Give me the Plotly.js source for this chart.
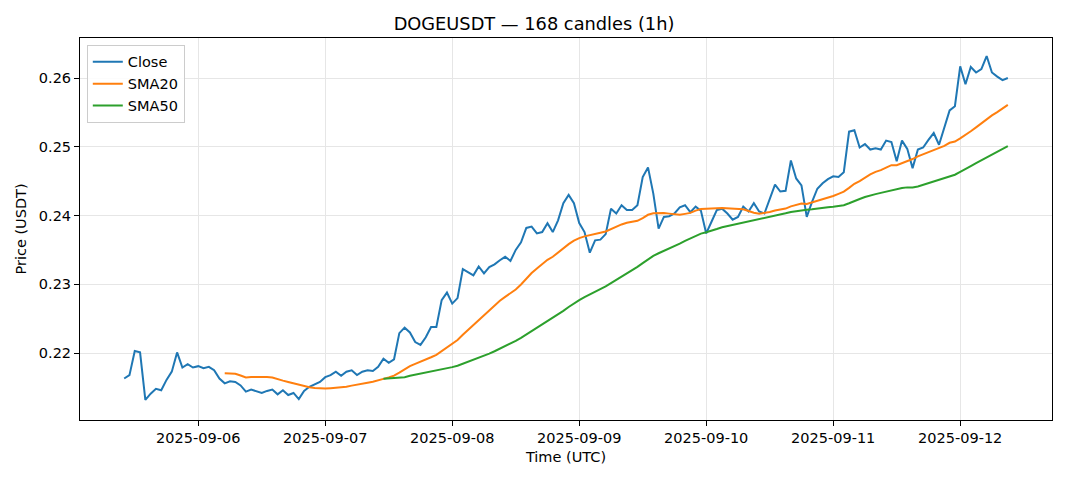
<!DOCTYPE html>
<html>
<head>
<meta charset="utf-8">
<script src="https://cdn.plot.ly/plotly-3.0.1.min.js"></script>
<style>html,body{margin:0;padding:0;background:#fff;}#chart{width:1068px;height:481px;}</style>
</head>
<body>
<div id="chart"></div>
<script>
// Hourly candles, first one at 2025-09-05 10:00 UTC
const startTime = "2025-09-05T10:00:00Z";
const closePrices = [
  0.2163,0.2168,0.2203,0.2201,0.2132,0.2141,0.2148,0.2146,0.2161,0.2173,
  0.2201,0.2179,0.2184,0.2179,0.2181,0.2178,0.2180,0.2175,0.2163,0.2156,
  0.2159,0.2158,0.2153,0.2144,0.2147,0.2144,0.2142,0.2145,0.2147,0.2140,
  0.2146,0.2139,0.2142,0.2133,0.2145,0.2151,0.2154,0.2158,0.2165,0.2168,
  0.2173,0.2167,0.2173,0.2175,0.2168,0.2173,0.2175,0.2174,0.2180,0.2192,
  0.2186,0.2191,0.2229,0.2237,0.2230,0.2216,0.2212,0.2223,0.2238,0.2238,
  0.2277,0.2288,0.2272,0.2280,0.2322,0.2317,0.2313,0.2326,0.2316,0.2325,
  0.2329,0.2335,0.2340,0.2334,0.2350,0.2361,0.2382,0.2384,0.2374,0.2376,
  0.2389,0.2376,0.2393,0.2418,0.2430,0.2418,0.2389,0.2376,0.2346,0.2364,
  0.2365,0.2373,0.2410,0.2403,0.2415,0.2408,0.2408,0.2415,0.2456,0.2470,
  0.2432,0.2381,0.2398,0.2399,0.2403,0.2412,0.2415,0.2405,0.2413,0.2407,
  0.2374,0.2391,0.2408,0.2410,0.2403,0.2394,0.2398,0.2413,0.2406,0.2418,
  0.2406,0.2403,0.2423,0.2445,0.2435,0.2436,0.2480,0.2454,0.2444,0.2398,
  0.2420,0.2439,0.2447,0.2453,0.2457,0.2456,0.2463,0.2522,0.2524,0.2499,
  0.2504,0.2496,0.2498,0.2496,0.2509,0.2507,0.2479,0.2509,0.2497,0.2469,
  0.2496,0.2499,0.2510,0.2520,0.2503,0.2527,0.2553,0.2559,0.2617,0.2591,
  0.2616,0.2608,0.2613,0.2632,0.2608,0.2602,0.2597,0.2600
];
const smaWindows = [20, 50];
const seriesNames = ["Close", "SMA20", "SMA50"];
const xTickVals = ["2025-09-06","2025-09-07","2025-09-08","2025-09-09","2025-09-10","2025-09-11","2025-09-12"];
const xTickText = ["2025-09-06","2025-09-07","2025-09-08","2025-09-09","2025-09-10","2025-09-11","2025-09-12"];
const yTickVals = [0.22, 0.23, 0.24, 0.25, 0.26];

const t0 = Date.parse(startTime);
const times = closePrices.map((_, i) => new Date(t0 + i * 3600000).toISOString().slice(0, 19).replace("T", " "));

function rollingMean(arr, n) {
  return arr.map((_, i) => {
    if (i < n - 1) return null;
    let s = 0;
    for (let k = i - n + 1; k <= i; k++) s += arr[k];
    return s / n;
  });
}
const sma20 = rollingMean(closePrices, smaWindows[0]);
const sma50 = rollingMean(closePrices, smaWindows[1]);

const colors = ["#1f77b4", "#ff7f0e", "#2ca02c"];
const traces = [closePrices, sma20, sma50].map((ys, k) => ({
  x: times, y: ys, type: "scatter", mode: "lines", name: seriesNames[k],
  line: {color: colors[k], width: 2}, connectgaps: false
}));

const font = {family: "DejaVu Sans, sans-serif", size: 14.5, color: "#000"};
const layout = {
  width: 1068, height: 481,
  margin: {l: 80, r: 16, t: 38, b: 61},
  paper_bgcolor: "#fff", plot_bgcolor: "#fff",
  font: font,
  title: {text: "DOGEUSDT — 168 candles (1h)", font: {family: "DejaVu Sans, sans-serif", size: 17.8, color: "#000"}, x: 0.5, xanchor: "center", y: 0.95, yanchor: "middle"},
  showlegend: true,
  legend: {x: 0.007, y: 0.982, xanchor: "left", yanchor: "top", bgcolor: "rgba(255,255,255,0.85)", bordercolor: "#cccccc", borderwidth: 1, font: font, tracegroupgap: 0},
  xaxis: {
    type: "date",
    range: ["2025-09-05 01:39:00", "2025-09-12 17:21:00"],
    tickvals: xTickVals, ticktext: xTickText,
    showgrid: true, gridcolor: "#e6e6e6", gridwidth: 1,
    showline: true, linecolor: "#000", linewidth: 1, mirror: true,
    ticks: "outside", ticklen: 5, tickcolor: "#000",
    zeroline: false,
    title: {text: "Time (UTC)", font: font, standoff: 6},
    tickfont: font
  },
  yaxis: {
    range: [0.21027, 0.26582],
    tickvals: yTickVals, tickformat: ".2f",
    showgrid: true, gridcolor: "#e6e6e6", gridwidth: 1,
    showline: true, linecolor: "#000", linewidth: 1, mirror: true,
    ticks: "outside", ticklen: 5, tickcolor: "#000",
    zeroline: false,
    title: {text: "Price (USDT)", font: font, standoff: 8},
    tickfont: font
  }
};
Plotly.newPlot("chart", traces, layout, {displayModeBar: false, staticPlot: true});
</script>
</body>
</html>
